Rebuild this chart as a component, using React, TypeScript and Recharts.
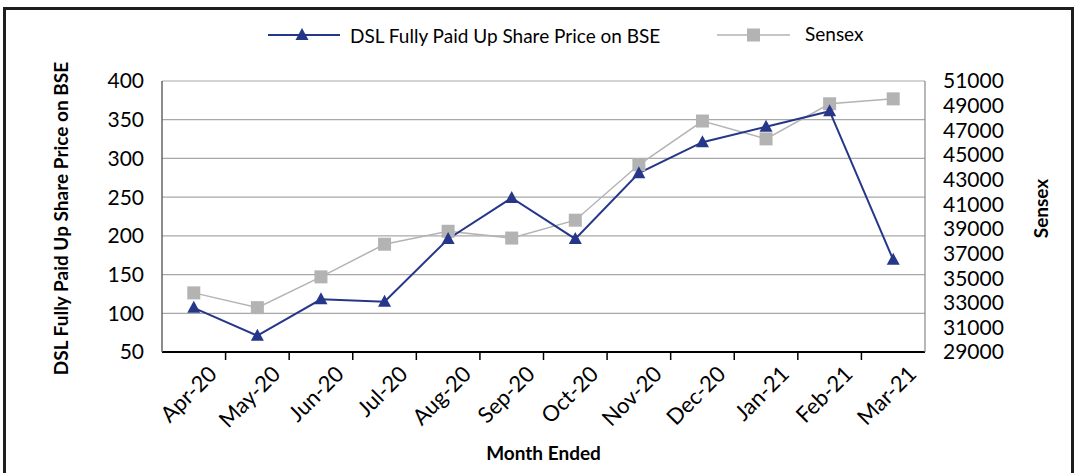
import React from 'react';
import { LineChart, Line, XAxis, YAxis, CartesianGrid, Legend, Label } from 'recharts';

const months = ['Apr-20', 'May-20', 'Jun-20', 'Jul-20', 'Aug-20', 'Sep-20', 'Oct-20', 'Nov-20', 'Dec-20', 'Jan-21', 'Feb-21', 'Mar-21'];
const dslPrice = [107, 71, 118, 115, 196, 249, 196, 281, 321, 341, 361, 169];
const sensexValues = [33800, 32600, 35100, 37750, 38800, 38250, 39700, 44200, 47750, 46300, 49150, 49550];
const leftTicks = [50, 100, 150, 200, 250, 300, 350, 400];
const rightTicks = [29000, 31000, 33000, 35000, 37000, 39000, 41000, 43000, 45000, 47000, 49000, 51000];

const DSL_NAME = 'DSL Fully Paid Up Share Price on BSE';
const SENSEX_NAME = 'Sensex';

const data = months.map((m, i) => ({ month: m, dsl: dslPrice[i], sensex: sensexValues[i] }));

const FONT = 'Lato, "Noto Sans", sans-serif';
const NAVY = '#26378a';
const GREY = '#b3b3b3';

const TriangleDot = (props: any) => {
  const { cx, cy, index } = props;
  if (cx == null || cy == null) return null;
  return (
    <polygon
      key={`t-${index}`}
      points={`${cx},${cy - 7} ${cx - 6.5},${cy + 5} ${cx + 6.5},${cy + 5}`}
      fill={NAVY}
    />
  );
};

const SquareDot = (props: any) => {
  const { cx, cy, index } = props;
  if (cx == null || cy == null) return null;
  return <rect key={`s-${index}`} x={cx - 6.5} y={cy - 6.5} width={13} height={13} fill={GREY} />;
};

const renderLegend = () => (
  <div style={{ height: 30, display: 'flex', alignItems: 'center', paddingLeft: 268, fontFamily: FONT, fontSize: 19, color: '#000' }}>
    <svg width={72} height={16}>
      <line x1={0} y1={8} x2={72} y2={8} stroke={NAVY} strokeWidth={2} />
      <polygon points="34,1 27.5,13 40.5,13" fill={NAVY} />
    </svg>
    <span style={{ marginLeft: 10, width: 312, whiteSpace: 'nowrap' }}>{DSL_NAME}</span>
    <svg width={73} height={16} style={{ marginLeft: 55 }}>
      <line x1={0} y1={8} x2={73} y2={8} stroke={GREY} strokeWidth={1.5} />
      <rect x={30} y={1.5} width={13} height={13} fill={GREY} />
    </svg>
    <span style={{ marginLeft: 15, whiteSpace: 'nowrap', marginTop: -4 }}>{SENSEX_NAME}</span>
  </div>
);

const XTick = (props: any) => {
  const { x, y, payload, index } = props;
  const half = payload && typeof payload.offset === 'number' ? payload.offset : 0;
  return (
    <g>
      {index > 0 && half > 0 ? (
        <line x1={x - half} y1={y} x2={x - half} y2={y - 8} stroke="#000" strokeWidth={1.5} />
      ) : null}
      <g transform={`translate(${x + 19},${y + 10})`}>
        <text x={0} y={0} dy="0.35em" textAnchor="end" transform="rotate(-45)" fill="#000" fontSize={22} fontFamily={FONT}>
          {payload.value}
        </text>
      </g>
    </g>
  );
};

export default function App() {
  return (
    <div style={{ position: 'absolute', left: 0, top: 0, width: 1076, height: 473, background: '#fff', overflow: 'hidden' }}>
      <div
        style={{
          position: 'absolute',
          left: 3,
          top: 7,
          width: 1071,
          height: 480,
          border: '3px solid #1e1e1e',
          boxSizing: 'border-box',
        }}
      />
      <div style={{ position: 'absolute', left: 0, top: 0 }}>
        <LineChart width={1076} height={473} data={data} margin={{ top: 51, right: 0, left: 50, bottom: 0 }}>
          <Legend verticalAlign="top" align="left" wrapperStyle={{ top: 20, left: 0, width: 1076 }} content={renderLegend} />
          <CartesianGrid yAxisId="left" horizontal vertical={false} stroke="#a8a8a8" strokeWidth={1.2} />
          <XAxis
            xAxisId="main"
            dataKey="month"
            scale="band"
            interval={0}
            tick={<XTick />}
            tickLine={false}
            axisLine={{ stroke: '#000', strokeWidth: 2 }}
            height={121}
          >
            <Label
              content={(p: any) => {
                const vb = p.viewBox || { x: 162, y: 352, width: 763 };
                return (
                  <text x={vb.x + vb.width / 2} y={vb.y + 100} textAnchor="middle" dominantBaseline="central" fontFamily={FONT} fontWeight={700} fontSize={19} fill="#000">
                    Month Ended
                  </text>
                );
              }}
            />
          </XAxis>
          <YAxis
            yAxisId="left"
            domain={[50, 400]}
            ticks={leftTicks}
            interval={0}
            width={112}
            tickLine={false}
            tickMargin={12}
            axisLine={{ stroke: '#666', strokeWidth: 1.5 }}
            tick={{ fill: '#000', fontSize: 21, fontFamily: FONT }}
          >
            <Label
              content={(p: any) => {
                const vb = p.viewBox || { x: 50, y: 81, height: 271 };
                const cx = vb.x + 10;
                const cy = vb.y + vb.height / 2 + 2;
                return (
                  <text x={cx} y={cy} transform={`rotate(-90, ${cx}, ${cy})`} textAnchor="middle" dominantBaseline="central" fontFamily={FONT} fontWeight={700} fontSize={19} fill="#000">
                    {DSL_NAME}
                  </text>
                );
              }}
            />
          </YAxis>
          <YAxis
            yAxisId="right"
            orientation="right"
            domain={[29000, 51000]}
            ticks={rightTicks}
            interval={0}
            width={151}
            tickLine={false}
            tickMargin={12}
            axisLine={{ stroke: '#888', strokeWidth: 1.2 }}
            tick={{ fill: '#000', fontSize: 21, fontFamily: FONT, textAnchor: 'start' }}
          >
            <Label
              content={(p: any) => {
                const vb = p.viewBox || { x: 925, y: 81, height: 271 };
                const cx = vb.x + 115;
                const cy = vb.y + vb.height / 2 - 8;
                return (
                  <text x={cx} y={cy} transform={`rotate(-90, ${cx}, ${cy})`} textAnchor="middle" dominantBaseline="central" fontFamily={FONT} fontWeight={700} fontSize={19} fill="#000">
                    {SENSEX_NAME}
                  </text>
                );
              }}
            />
          </YAxis>
          <Line
            xAxisId="main"
            yAxisId="right"
            type="linear"
            dataKey="sensex"
            name={SENSEX_NAME}
            stroke={GREY}
            strokeWidth={1.5}
            dot={SquareDot}
            activeDot={false}
            isAnimationActive={false}
          />
          <Line
            xAxisId="main"
            yAxisId="left"
            type="linear"
            dataKey="dsl"
            name={DSL_NAME}
            stroke={NAVY}
            strokeWidth={2}
            dot={TriangleDot}
            activeDot={false}
            isAnimationActive={false}
          />
        </LineChart>
      </div>
    </div>
  );
}
